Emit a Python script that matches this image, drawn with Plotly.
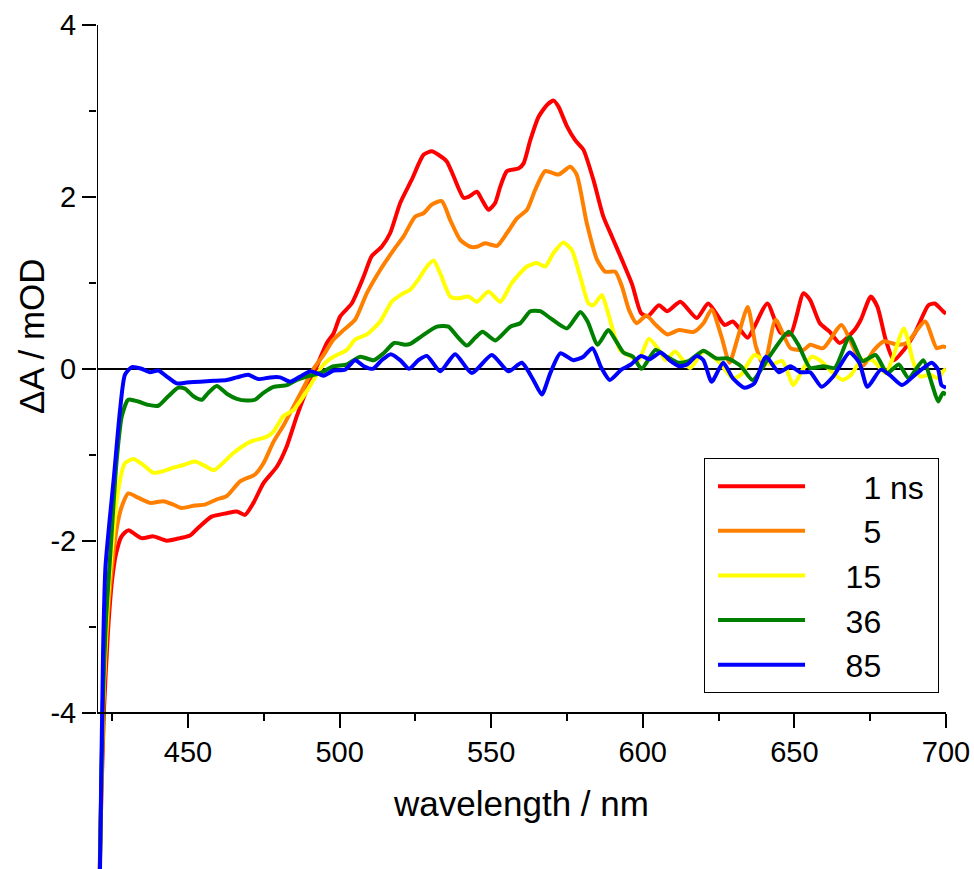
import plotly.graph_objects as go

# Transient absorption spectra at several delays (ΔA in mOD vs wavelength in nm)
wl_1ns = [420, 421, 422.3, 423.6, 425, 426.3, 428.1, 430.3, 434.7, 438.6, 443, 447.4, 450.7, 453.4,
          457.8, 462.8, 466.1, 468.8, 471.6, 474.9, 479.3, 482.6, 485.9, 489.2, 492.5, 495.8, 498,
          500.2, 504, 507.9, 510.6, 513.9, 516.7, 520, 523.8, 527.7, 530.4, 532.6, 535.4, 537.6,
          540.9, 542.5, 545.3, 546.9, 549.1, 551.3, 553, 555.2, 559, 560.7, 562.9, 565.6, 568.4,
          570.6, 572.2, 575, 577.7, 580.4, 583.7, 587, 589.8, 593.1, 596.5, 599.4, 601.6, 605.3,
          608.1, 612.4, 617.8, 621.6, 627, 629.7, 634.6, 636.8, 641.1, 645.4, 648.7, 653, 655.2,
          658.4, 661.7, 664.9, 669.8, 671.9, 675.2, 677.4, 680.1, 682.8, 686.1, 689.8, 694.2, 696.3,
          699, 700]
dA_1ns = [-8.0, -5.6, -3.97, -3.07, -2.45, -2.15, -1.95, -1.88, -1.97, -1.95, -2.0, -1.97, -1.94, -1.85,
          -1.72, -1.68, -1.66, -1.70, -1.56, -1.33, -1.14, -0.90, -0.55, -0.24, 0.03, 0.30, 0.41,
          0.61, 0.76, 1.07, 1.31, 1.42, 1.58, 1.93, 2.20, 2.49, 2.53, 2.49, 2.41, 2.24,
          1.99, 2.0, 2.06, 1.97, 1.85, 1.93, 2.12, 2.30, 2.33, 2.39, 2.66, 2.93, 3.07,
          3.12, 3.05, 2.82, 2.66, 2.55, 2.20, 1.77, 1.54, 1.27, 0.98, 0.65, 0.61, 0.74,
          0.67, 0.78, 0.59, 0.76, 0.51, 0.55, 0.36, 0.49, 0.76, 0.42, 0.40, 0.88, 0.80,
          0.53, 0.43, 0.30, 0.45, 0.57, 0.84, 0.72, 0.34, 0.10, 0.22, 0.42, 0.74, 0.76,
          0.67, 0.64]

wl_5ns = [420, 421, 422, 423.5, 425.4, 426.8, 428.2, 430.3, 433.6, 437.5, 441.9, 445.2, 447.9, 452.3,
          455.6, 459.5, 462.8, 467.2, 472.1, 474.9, 478.2, 481.5, 484.8, 488.1, 491.4, 494.7, 498,
          501.3, 505.1, 509, 513.4, 517.8, 521.1, 524.9, 527.7, 530.4, 533.7, 536.5, 539.8, 543.1,
          545.3, 548, 551.9, 555.2, 558.5, 561.8, 564.5, 567.8, 572.2, 576.1, 578.2, 581.5, 584.9,
          587.6, 590.9, 593.1, 595.5, 598, 601.2, 604.3, 608.1, 611.9, 616.8, 620, 622.7, 625.9,
          628.6, 631.3, 634.6, 637.3, 640, 643.8, 648.7, 653, 655.2, 659.5, 665.5, 669.3, 672.5,
          676.3, 679.6, 683.9, 687.1, 693.1, 696.9, 699, 700]
dA_5ns = [-8.0, -5.7, -4.0, -2.9, -2.15, -1.8, -1.60, -1.45, -1.50, -1.56, -1.54, -1.58, -1.62, -1.59,
          -1.58, -1.52, -1.48, -1.31, -1.23, -1.10, -0.85, -0.66, -0.44, -0.22, 0.0, 0.16, 0.34,
          0.45, 0.57, 0.88, 1.15, 1.38, 1.54, 1.77, 1.81, 1.91, 1.95, 1.73, 1.50, 1.42,
          1.42, 1.46, 1.43, 1.58, 1.75, 1.85, 2.08, 2.30, 2.26, 2.35, 2.26, 1.70, 1.27,
          1.13, 1.13, 0.96, 0.68, 0.53, 0.62, 0.51, 0.40, 0.45, 0.43, 0.53, 0.69, 0.38,
          0.07, 0.36, 0.72, 0.26, 0.03, 0.57, 0.24, 0.22, 0.28, 0.24, 0.51, 0.26, 0.03,
          0.22, 0.32, 0.28, 0.30, 0.55, 0.24, 0.26, 0.25]

wl_15ns = [420, 421, 422, 423.5, 424.8, 427, 429.2, 432, 435.3, 438.6, 441.9, 445.2, 448.5, 452.3,
           455.6, 458.6, 461.7, 465, 470.5, 476, 478.2, 481.5, 484.8, 488.1, 491.4, 494.7, 498,
           502.4, 505.1, 509, 513.4, 517.2, 521.1, 523.3, 526, 528.8, 531, 533.2, 536.5, 539.2,
           542.5, 545.3, 549.1, 553, 556.8, 561.8, 565.1, 567.8, 570.6, 573.8, 576.6, 579.4, 582.1,
           583.7, 586.5, 588.2, 590.4, 592.5, 595.7, 598.5, 602, 605.3, 607.5, 610.7, 615.6, 620,
           624.8, 629.7, 632.4, 636.8, 642.2, 646, 649.7, 652.4, 655.7, 658.4, 662.8, 666, 668.7,
           672, 675.7, 680.1, 682.2, 686.1, 689.3, 691.5, 694.7, 697.4, 699, 700]
dA_15ns = [-8.0, -5.7, -3.9, -2.75, -2.15, -1.41, -1.10, -1.05, -1.12, -1.21, -1.19, -1.15, -1.12, -1.08,
           -1.13, -1.18, -1.09, -0.98, -0.85, -0.79, -0.73, -0.55, -0.48, -0.32, -0.13, 0.05, 0.14,
           0.22, 0.34, 0.40, 0.55, 0.78, 0.88, 0.92, 1.04, 1.19, 1.26, 1.11, 0.84, 0.82,
           0.84, 0.78, 0.90, 0.78, 1.00, 1.19, 1.23, 1.19, 1.35, 1.47, 1.38, 1.07, 0.76,
           0.74, 0.86, 0.69, 0.42, 0.22, 0.15, 0.09, 0.35, 0.22, 0.10, 0.20, 0.01, 0.20,
           0.09, -0.11, -0.07, 0.16, 0.05, 0.09, -0.19, -0.03, 0.14, 0.10, -0.05, -0.13, -0.07,
           0.10, 0.10, -0.05, 0.10, 0.47, 0.07, -0.09, -0.07, -0.11, -0.03, 0.0]

wl_36ns = [420, 421, 422, 423, 424.3, 426.5, 428.2, 430.3, 433.6, 436.9, 440.2, 443.5, 446.8, 449,
           451.8, 454.6, 456.7, 459.5, 462.8, 466.1, 469.4, 472.1, 474.9, 478.2, 482.6, 485.9, 489.2,
           493.6, 498, 502.4, 506.8, 511.2, 514.5, 518, 521.6, 523.3, 527.1, 532.1, 535.9, 538.7,
           542, 544.7, 547.2, 551.3, 556.3, 559.6, 562.9, 566.2, 569.5, 575, 579.4, 581.8, 585.1,
           588.6, 590.9, 593.6, 596.8, 599.6, 604.2, 607.5, 611.8, 615.1, 620, 624.3, 628.1, 632.4,
           636.2, 642.1, 648.1, 651.3, 655.2, 659.5, 663.3, 668.2, 672.5, 676.8, 680.6, 684.4, 687.7,
           692.5, 695.3, 697.4, 699, 700]
dA_36ns = [-8.0, -5.7, -3.8, -2.9, -2.2, -1.06, -0.55, -0.36, -0.38, -0.42, -0.43, -0.32, -0.22, -0.23,
           -0.32, -0.36, -0.28, -0.20, -0.29, -0.35, -0.37, -0.36, -0.28, -0.21, -0.19, -0.13, -0.09,
           -0.05, 0.03, 0.05, 0.14, 0.10, 0.18, 0.30, 0.28, 0.29, 0.38, 0.49, 0.49, 0.38,
           0.27, 0.36, 0.43, 0.33, 0.49, 0.53, 0.67, 0.67, 0.59, 0.47, 0.66, 0.55, 0.28,
           0.45, 0.34, 0.19, 0.14, 0.0, 0.22, 0.15, 0.07, 0.09, 0.21, 0.12, 0.12, 0.03,
           -0.13, 0.16, 0.43, 0.28, 0.01, 0.03, 0.01, 0.37, 0.09, 0.16, -0.05, 0.05, -0.11,
           0.10, -0.17, -0.38, -0.28, -0.30]

wl_85ns = [420, 421, 422, 422.8, 425.6, 427.6, 429.2, 431.5, 434.7, 437.5, 440.2, 443, 446.3, 449.6,
           454, 458.4, 462.8, 466.1, 469.9, 473.2, 477.1, 480.4, 483.7, 487, 490.3, 492.5, 494.7,
           498, 501.8, 505.1, 508, 511, 513.9, 516.9, 520, 522.9, 526, 528.8, 533.2, 538.1,
           543.6, 550.2, 555.7, 560.1, 563.9, 566.7, 569.5, 572.8, 577.1, 580.4, 583.4, 586.2, 589.1,
           592.9, 596.1, 599.4, 602.1, 605.9, 608.8, 611.9, 614.6, 617.8, 620, 622.7, 626.5, 629.7,
           633.5, 636.8, 640.6, 644.9, 648.7, 651.9, 655.2, 659, 662.8, 668.2, 671.4, 674.1, 678.5,
           681.7, 685.5, 689.8, 695.3, 697.4, 698.5, 700]
dA_85ns = [-8.5, -5.8, -3.3, -2.3, -1.25, -0.48, -0.07, 0.02, 0.0, -0.04, -0.02, -0.09, -0.17, -0.16,
           -0.15, -0.14, -0.13, -0.10, -0.07, -0.12, -0.10, -0.10, -0.15, -0.09, -0.03, -0.05, -0.08,
           -0.02, -0.01, 0.10, 0.03, 0.0, 0.10, 0.17, 0.10, 0.0, 0.10, 0.15, -0.03, 0.17,
           -0.05, 0.16, -0.03, 0.07, -0.13, -0.30, -0.05, 0.18, 0.10, 0.14, 0.24, 0.02, -0.13,
           -0.01, 0.05, 0.15, 0.11, 0.19, 0.10, 0.03, 0.05, 0.15, 0.10, -0.15, 0.07, -0.11,
           -0.22, -0.17, 0.14, -0.04, 0.03, -0.04, -0.04, -0.21, -0.09, 0.19, 0.07, -0.21, -0.01,
           -0.08, -0.19, -0.07, 0.07, -0.01, -0.19, -0.22]

NBSP = "\u00a0"
GAP = NBSP * 4          # space between legend line sample and its label
labels = [GAP + NBSP * 2 + "1 ns" + NBSP, GAP + NBSP * 2 + "5", GAP + "15", GAP + "36", GAP + "85"]
colors = ["#ff0000", "#ff8000", "#ffff00", "#008000", "#0000ff"]
series = [(wl_1ns, dA_1ns), (wl_5ns, dA_5ns), (wl_15ns, dA_15ns),
          (wl_36ns, dA_36ns), (wl_85ns, dA_85ns)]

x_range = [420, 700]
x_ticks = [450, 500, 550, 600, 650, 700]
x_minor = [425, 475, 525, 575, 625, 675]
y_ticks = [-4, -2, 0, 2, 4]
y_ticktext = ["-4", "-2", "0", "2", "4"]
y_minor = [-3, -1, 1, 3]
y_top = 4
y_axis_bottom = -4
y_view_bottom = -5.82   # curves continue below the wavelength axis
x_axis_pos = (y_axis_bottom - y_view_bottom) / (y_top - y_view_bottom)

FONT = "Liberation Sans, Arial, sans-serif"

fig = go.Figure()
for (wl, dA), name, col in zip(series, labels, colors):
    fig.add_trace(go.Scatter(
        x=wl, y=dA, mode="lines", name=name,
        line=dict(color=col, width=4, shape="spline", smoothing=0.6),
    ))

# left axis line only spans the labelled range
fig.add_shape(type="line", xref="x", yref="y",
              x0=x_range[0], x1=x_range[0], y0=y_axis_bottom, y1=y_top,
              line=dict(color="black", width=2))

# vertical axis title
fig.add_annotation(text="ΔA / mOD", textangle=-90, showarrow=False,
                   xref="paper", yref="paper", x=-0.0777, y=0.6315,
                   xanchor="center", yanchor="middle",
                   font=dict(family=FONT, size=35, color="black"))

fig.update_layout(
    width=974, height=869,
    margin=dict(l=97, r=28, t=25, b=0),
    paper_bgcolor="white", plot_bgcolor="white",
    font=dict(family=FONT, color="black"),
    showlegend=True,
    legend=dict(
        x=0.715, y=0.487, xanchor="left", yanchor="top",
        bordercolor="black", borderwidth=1, bgcolor="white",
        font=dict(family=FONT, size=32, color="black"),
        itemwidth=87, indentation=8, tracegroupgap=0,
    ),
    xaxis=dict(
        range=x_range, anchor="free", position=x_axis_pos,
        showline=True, linecolor="black", linewidth=2,
        showgrid=False, zeroline=False,
        ticks="outside", ticklen=14, tickwidth=2, tickcolor="black",
        tickmode="array", tickvals=x_ticks,
        tickfont=dict(family=FONT, size=29),
        minor=dict(tickmode="array", tickvals=x_minor,
                   ticks="outside", ticklen=7, tickwidth=2, tickcolor="black"),
        title=dict(text="wavelength / nm", font=dict(family=FONT, size=35), standoff=23),
    ),
    yaxis=dict(
        range=[y_view_bottom, y_top],
        showline=False, showgrid=False,
        zeroline=True, zerolinecolor="black", zerolinewidth=1.5,
        ticks="outside", ticklen=14, tickwidth=2, tickcolor="black",
        tickmode="array", tickvals=y_ticks, ticktext=y_ticktext,
        tickfont=dict(family=FONT, size=29),
        minor=dict(tickmode="array", tickvals=y_minor,
                   ticks="outside", ticklen=7, tickwidth=2, tickcolor="black"),
    ),
)

fig.write_html("out.html")
